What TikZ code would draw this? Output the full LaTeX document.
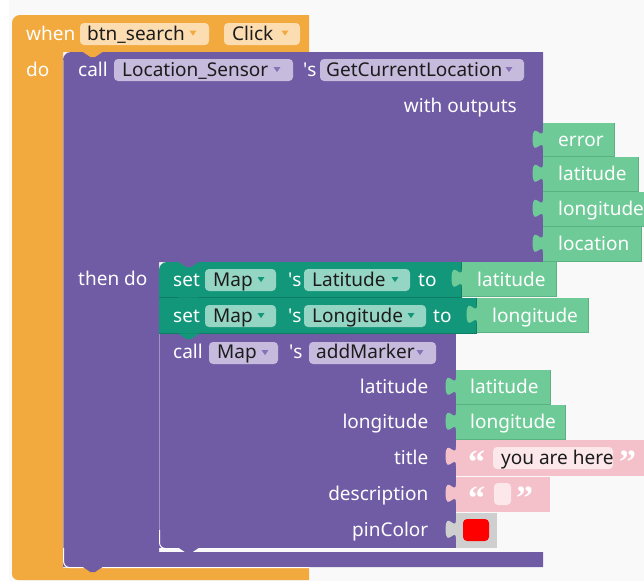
\documentclass[tikz,border=0pt]{standalone}
\usepackage{fontspec}
\setmainfont{Noto Sans}
\newfontfamily\quotefamily{Liberation Serif}

% block palette
\definecolor{bg}{HTML}{F9F9F9}
\definecolor{evt}{HTML}{F2A93E}
\definecolor{evtfld}{HTML}{FCDDB1}
\definecolor{comp}{HTML}{705BA5}
\definecolor{compfld}{HTML}{C6BBDD}
\definecolor{comparrow}{HTML}{8572B8}
\definecolor{setc}{HTML}{13977A}
\definecolor{setdk}{HTML}{0E7D64}
\definecolor{setfld}{HTML}{95D5C3}
\definecolor{getc}{HTML}{6ECB97}
\definecolor{getdk}{HTML}{5AB182}
\definecolor{txtc}{HTML}{F4C1CA}
\definecolor{txtfld}{HTML}{FCE7EB}
\definecolor{colc}{HTML}{CFCFCF}
\definecolor{fldtext}{HTML}{1C1C1C}

\newcommand\blkfont{\fontsize{19}{22}\selectfont}
\newcommand\quotefont{\quotefamily\fontsize{34}{34}\selectfont\bfseries}
\newcommand\apos{\textquotesingle}

% output tab (puzzle knob) on the left edge x of a value block whose top is y
\newcommand\ptab[3]{%
  \fill[#3] (#1+1,#2+6.5) -- (#1,#2+6.5)
    .. controls (#1,#2+19.5) and (#1-10.4,#2-3.9) .. (#1-10.4,#2+16.25)
    .. controls (#1-10.4,#2+36.4) and (#1,#2+13) .. (#1,#2+26)
    -- (#1+1,#2+26) -- cycle;}
% statement connector bump below the edge y of a block whose left side is x
\newcommand\nbump[3]{%
  \fill[#3] (#1+20,#2-0.7) -- (#1+20,#2) -- (#1+27.8,#2+5.2) -- (#1+31.7,#2+5.2)
    -- (#1+39.5,#2) -- (#1+39.5,#2-0.7) -- cycle;}
% dropdown triangle centred at (x,y)
\newcommand\ddarrow[3]{%
  \fill[#3] (#1-3.5,#2-2.5) -- (#1+3.5,#2-2.5) -- (#1,#2+2.6) -- cycle;}
% value block with a shaded right and bottom edge
\newcommand\valblk[6]{%
  \fill[#5] (#1,#2) rectangle (#3,#4);
  \draw[#6, line width=0.9pt] (#3-0.45,#2) -- (#3-0.45,#4-0.45) -- (#1,#4-0.45);}

\tikzset{
  blk/.style={font=\blkfont, text=white, anchor=base west, inner sep=0pt},
  blkr/.style={blk, anchor=base east},
  fld/.style={font=\blkfont, text=fldtext, anchor=base west, inner sep=0pt},
  qmark/.style={font=\quotefont, text=white, anchor=base west, inner sep=0pt},
  fbox/.style={rounded corners=4pt},
}

\begin{document}
\begin{tikzpicture}[x=1pt,y=-1pt]
\useasboundingbox (0,0) rectangle (644,581);
\clip (0,0) rectangle (644,581);
\fill[bg] (0,0) rectangle (644,581);
\fill[white] (0,0) rectangle (9,581);

% ---- event handler: when btn_search.Click
\fill[evt] (12,23) .. controls (12,18.6) and (15.6,15) .. (20,15) -- (309,15)
  -- (309,52) -- (63,52) -- (63,568) -- (309,568) -- (309,580) -- (18,580)
  .. controls (14.7,580) and (12,577.3) .. (12,574) -- cycle;

% ---- call Location_Sensor.GetCurrentLocation
\fill[comp] (63,60) .. controls (63,55.6) and (66.6,52) .. (71,52) -- (543,52)
  -- (543,262) -- (159,262) -- (159,552) -- (543,552) -- (543,567) -- (63,567) -- cycle;
\draw[white, opacity=0.35] (63.5,60) -- (63.5,550);
\draw[white, line width=1pt] (63.5,548) -- (63.5,561)
  .. controls (63.5,564.6) and (66,567.5) .. (69.5,567.5) -- (309,567.5);

% ---- then do: set blocks and addMarker call
\fill[setc] (159,270) .. controls (159,265.6) and (162.6,262) .. (167,262)
  -- (462,262) -- (462,298) -- (159,298) -- cycle;
\draw[setdk, line width=0.9pt] (461.55,262) -- (461.55,297.55) -- (159,297.55);
\fill[setc] (159,298) rectangle (477,334);
\draw[setdk, line width=0.9pt] (476.55,298) -- (476.55,333.55) -- (159,333.55);
\fill[comp] (159,334) rectangle (456,548);
\draw[white, opacity=0.35] (159.5,334) -- (159.5,532);
\draw[white, line width=1pt] (159.5,530) -- (159.5,542.5)
  .. controls (159.5,546) and (162,548.5) .. (165.5,548.5) -- (456,548.5);

% statement connector bumps
\nbump{63}{52}{evt}
\nbump{159}{262}{comp}
\nbump{159}{298}{setc}
\nbump{159}{334}{setc}
\nbump{159}{548}{comp}
\nbump{63}{567}{comp}

% ---- outputs of GetCurrentLocation
\valblk{543}{123}{615}{157}{getc}{getdk}
\valblk{543}{157}{639}{192}{getc}{getdk}
\valblk{543}{192}{650}{227}{getc}{getdk}
\valblk{543}{227}{642}{262}{getc}{getdk}
\ptab{543}{123}{getc}
\ptab{543}{157}{getc}
\ptab{543}{192}{getc}
\ptab{543}{227}{getc}

% ---- values plugged into the set blocks
\valblk{462}{262}{557}{297}{getc}{getdk}
\ptab{462}{262}{getc}
\valblk{477}{298}{589}{333}{getc}{getdk}
\ptab{477}{298}{getc}

% ---- addMarker arguments
\valblk{456}{370}{551}{405}{getc}{getdk}
\ptab{456}{370}{getc}
\valblk{456}{405}{566}{440}{getc}{getdk}
\ptab{456}{405}{getc}
\fill[txtc] (456,440) rectangle (652,476);
\ptab{456}{440}{txtc}
\fill[txtc] (456,477) rectangle (550,512);
\ptab{456}{477}{txtc}
\fill[colc] (456,513) rectangle (497,548);
\ptab{456}{513}{colc}
\fill[red, rounded corners=4pt] (463,519) rectangle (489,541);

% ---- fields
\fill[evtfld, fbox] (80,23) rectangle (209,45);
\fill[evtfld, fbox] (224,23) rectangle (300,45);
\fill[compfld, fbox] (114,59) rectangle (293,81);
\fill[compfld, fbox] (320,59) rectangle (524,81);
\fill[setfld, fbox] (205,269) rectangle (276,291);
\fill[setfld, fbox] (304,269) rectangle (410,291);
\fill[setfld, fbox] (205,305) rectangle (276,327);
\fill[setfld, fbox] (304,305) rectangle (426,327);
\fill[compfld, fbox] (209,342) rectangle (278,364);
\fill[compfld, fbox] (309,342) rectangle (436,364);
\fill[txtfld, fbox] (493,447) rectangle (613,469);
\fill[txtfld, fbox] (494,483) rectangle (511,505);

\ddarrow{193}{33}{evt}
\ddarrow{285}{33}{evt}
\ddarrow{277}{69.5}{comparrow}
\ddarrow{509}{69.5}{comparrow}
\ddarrow{261}{279.5}{setc}
\ddarrow{395}{279.5}{setc}
\ddarrow{261}{315.5}{setc}
\ddarrow{411}{315.5}{setc}
\ddarrow{265}{352.5}{comparrow}
\ddarrow{420}{352.5}{comparrow}

% ---- texts
\node[blk] (when) at (26,40) {when};
\node[fld] (comp) at (87,40) {btn\_search};
\node[fld] (evname) at (232,40) {Click};
\node[blk] (do) at (26,76) {do};

\node[blk] (call1) at (78,76) {call};
\node[fld] (sensor) at (122,76) {Location\_Sensor};
\node[blk] (poss1) at (303,76) {\apos s};
\node[fld] (method1) at (326,76) {GetCurrentLocation};
\node[blkr] (without) at (517,112) {with outputs};

\node[blk] (oerr) at (558,146) {error};
\node[blk] (olat) at (558,180.5) {latitude};
\node[blk] (olon) at (558,215) {longitude};
\node[blk] (oloc) at (558,250) {location};

\node[blk] (thendo) at (78,285) {then do};

\node[blk] (set1) at (173,286) {set};
\node[fld] (map1) at (213,286) {Map};
\node[blk] (poss2) at (288,286) {\apos s};
\node[fld] (prop1) at (312,286) {Latitude};
\node[blk] (to1) at (418,286) {to};
\node[blk] (vlat1) at (477,286) {latitude};

\node[blk] (set2) at (173,322) {set};
\node[fld] (map2) at (213,322) {Map};
\node[blk] (poss3) at (288,322) {\apos s};
\node[fld] (prop2) at (312,322) {Longitude};
\node[blk] (to2) at (433,322) {to};
\node[blk] (vlon1) at (492,322) {longitude};

\node[blk] (call2) at (173,358) {call};
\node[fld] (map3) at (217,358) {Map};
\node[blk] (poss4) at (289,358) {\apos s};
\node[fld] (method2) at (316,358) {addMarker};

\node[blkr] (alat) at (428.5,393) {latitude};
\node[blkr] (alon) at (428.5,428) {longitude};
\node[blkr] (atitle) at (428.5,464) {title};
\node[blkr] (adesc) at (428.5,500.5) {description};
\node[blkr] (apin) at (428.5,536.5) {pinColor};

\node[blk] (vlat2) at (470,393) {latitude};
\node[blk] (vlon2) at (470,428) {longitude};
\node[qmark] (q1o) at (468,473) {“};
\node[fld] (titletext) at (501,464) {you are here};
\node[qmark] (q1c) at (619,473) {”};
\node[qmark] (q2o) at (468,509) {“};
\node[qmark] (q2c) at (516,509) {”};
\end{tikzpicture}
\end{document}
